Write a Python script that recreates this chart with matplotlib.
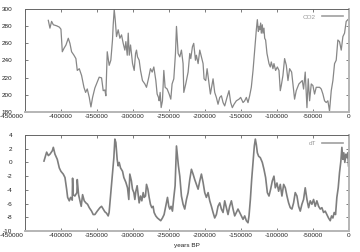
import matplotlib
matplotlib.use("Agg")
import matplotlib.pyplot as plt
from matplotlib.transforms import ScaledTranslation

# ---------------- data ----------------
co2_years = [-417600, -415300, -413000, -410600, -406000, -402300, -400000, -398100, -395800, -393000,
             -389800, -387500, -385200, -381900, -379200, -377300, -374500, -371300, -368000, -365700,
             -363400, -360600, -358300, -356000, -352800, -349500, -346800, -343500, -341200, -338900,
             -337500, -335600, -332900, -330600, -328300, -327300, -325900, -324500, -322700, -320400,
             -318000, -315700, -313400, -311100, -309700, -307800, -306400, -305000, -303200, -300400,
             -298100, -296200, -294900, -293500, -291200, -289300, -286600, -283300, -281000, -277800,
             -275500, -273100, -270800, -268000, -266200, -264300, -263400, -262000, -260600, -258800,
             -256900, -255100, -252300, -249500, -247200, -245400, -243000, -240700, -239300, -237000,
             -234700, -232400, -230100, -229100, -226400, -223100, -220800, -219400, -217100, -215300,
             -212900, -211600, -209200, -206900, -204600, -202300, -200900, -198600, -196700, -194000,
             -192100, -188400, -186100, -183800, -181500, -179100, -176800, -174500, -172200, -169000,
             -166200, -163900, -161600, -159200, -156000, -152300, -150000, -146700, -144400, -142100,
             -139800, -137500, -135200, -132800, -130500, -128200, -126800, -125400, -124500, -123600,
             -122200, -121300, -119900, -119000, -117600, -116600, -115300, -113400, -112000, -110600,
             -108800, -107400, -105100, -103700, -101400, -99000, -96700, -94900, -93500, -91200,
             -88900, -86500, -84200, -81900, -79100, -77300, -75000, -72700, -69000, -64300,
             -62500, -60200, -57800, -56000, -54100, -51800, -49500, -47200, -44900, -40200,
             -37900, -35600, -33300, -31000, -28700, -26400, -24000, -21700, -19400, -17100,
             -14800, -12500, -10100, -7800, -5500, -3200, -900]
co2_ppm = [286.3, 277.3, 285.1, 281.2, 280.0, 278.5, 276.1, 250.0, 253.9, 257.8,
           265.6, 259.7, 250.0, 246.0, 242.1, 228.4, 230.4, 222.6, 208.9, 203.0,
           207.0, 197.2, 186.2, 197.2, 208.1, 214.8, 220.6, 219.8, 205.0, 205.8,
           199.1, 250.0, 234.3, 240.2, 263.6, 281.2, 298.8, 287.1, 267.5, 275.4,
           265.6, 269.5, 259.7, 251.9, 261.7, 246.0, 271.5, 246.0, 257.8, 236.3,
           228.4, 248.0, 251.9, 244.1, 240.2, 228.4, 216.7, 212.8, 208.9, 220.6,
           230.4, 226.5, 232.4, 216.7, 201.1, 197.2, 193.3, 203.0, 185.5, 193.3,
           228.4, 208.9, 207.0, 201.1, 195.2, 212.8, 218.7, 248.0, 279.3, 248.0,
           244.1, 251.9, 236.3, 203.0, 212.8, 226.5, 248.0, 242.1, 255.8, 259.7,
           240.2, 246.0, 236.3, 251.9, 244.1, 236.3, 218.7, 216.7, 230.4, 212.8,
           201.1, 218.7, 203.0, 197.2, 189.3, 197.2, 199.1, 191.3, 187.4, 197.2,
           205.0, 191.3, 185.4, 189.3, 193.3, 195.2, 197.2, 191.3, 193.3, 197.2,
           191.3, 199.1, 208.9, 228.4, 251.9, 275.4, 287.1, 273.4, 279.3, 275.4,
           283.2, 271.5, 281.2, 271.5, 277.3, 265.6, 263.6, 248.0, 242.1, 236.3,
           232.4, 238.2, 230.4, 236.3, 228.4, 232.4, 228.4, 205.0, 210.9, 222.6,
           242.1, 234.3, 216.7, 230.4, 226.5, 212.8, 195.2, 205.0, 212.8, 216.7,
           206.9, 226.5, 185.4, 218.7, 193.3, 212.8, 210.9, 201.1, 208.9, 208.9,
           206.9, 201.1, 193.3, 191.3, 193.3, 181.5, 205.0, 216.7, 236.3, 240.2,
           263.6, 261.7, 251.9, 267.5, 271.5, 285.1, 287.1]

dt_years = [-423600, -419900, -417500, -415300, -412000, -410600, -408300, -405100, -402300, -400000,
            -396800, -394400, -392100, -390700, -388400, -386600, -384300, -383800, -382900, -380600,
            -377800, -377300, -375500, -373600, -371800, -369900, -367600, -365300, -363000, -360600,
            -357400, -355100, -352800, -349500, -345800, -343500, -341200, -338900, -336600, -334300,
            -333000, -330600, -328300, -326400, -325000, -323600, -321800, -320400, -319000, -317100,
            -314300, -312500, -309700, -307400, -305600, -304200, -302000, -300500, -298600, -297200,
            -295800, -294000, -292600, -291200, -289300, -287500, -285600, -284200, -282400, -281000,
            -279100, -277300, -275500, -273600, -271800, -270400, -268100, -265800, -263500, -261200,
            -258800, -256500, -254200, -251800, -250000, -248600, -246800, -244900, -243000, -241200,
            -239300, -237900, -236600,
            -234700, -232400, -230100, -227800, -225400, -223100, -220800, -218500, -216200, -213900,
            -211600, -209200, -206900, -204600, -202300, -200000, -197700, -195300, -193000, -190700,
            -188400, -186100, -183800, -181500, -179100, -176800, -174500, -172200, -169900, -167600,
            -165300, -162900, -160600, -158300, -156000, -153700, -151400, -149100, -146700, -144400,
            -142100, -139800, -138400, -136500, -134700, -132800, -131000, -129600, -128200, -126800,
            -125000, -122700, -119900, -117600, -115300, -112900, -110600, -108300, -106000, -103700,
            -101800, -99500, -97200, -94900, -92600, -90200, -87900, -85600, -83300, -81000,
            -78700, -76400, -74100, -71700, -69400, -67100, -64800, -62500, -60200, -57800,
            -55500, -53200, -50900, -48600, -46300, -44000, -41600, -39300, -37000, -34700,
            -32400, -30100, -27800, -25400, -23600, -21700, -19900, -18000, -16200, -14300,
            -12500, -10600, -9200, -7900, -6500, -5100, -3700, -2300, -1000, 0]
dt_values = [0.2, 1.5, 1.0, 1.2, 1.7, 2.2, 1.2, 0.45, -0.8, -1.3,
             -1.7, -2.2, -3.9, -5.1, -5.6, -5.1, -5.5, -2.3, -4.7, -4.9,
             -4.4, -2.5, -4.7, -5.6, -6.4, -4.7, -5.6, -5.9, -6.1, -6.6,
             -7.1, -7.6, -7.6, -7.1, -6.6, -6.4, -6.8, -7.2, -7.4, -7.8,
             -7.3, -4.4, -1.5, 0.7, 3.4, 2.9, 0.45, -0.5, 0.0, -0.8,
             -1.3, -2.2, -2.9, -3.7, -5.4, -1.7, -2.7, -3.9, -4.4, -5.4,
             -4.2, -3.4, -4.7, -5.9, -4.9, -5.6, -4.4, -5.1, -4.9, -3.2,
             -3.9, -5.1, -6.1, -6.6, -6.4, -7.3, -7.8, -8.1, -8.3, -8.5,
             -8.1, -7.6, -6.4, -5.1, -6.4, -6.8, -6.4, -7.1, -5.1, -3.4,
             2.4, 0.9, -0.5,
             -2.0, -4.9, -6.1, -6.8, -5.4, -4.4, -2.5, -1.0, -1.7, -2.5,
             -3.2, -3.9, -2.7, -1.7, -2.9, -4.4, -5.1, -4.4, -5.6, -6.4,
             -7.3, -8.1, -7.6, -6.4, -5.9, -6.8, -7.3, -5.6, -6.6, -7.6,
             -6.4, -5.6, -6.8, -7.8, -7.3, -6.8, -7.3, -7.8, -8.3, -7.8,
             -8.5, -8.8, -7.8, -5.4, -2.5, 0.0, 2.4, 3.4, 2.6, 1.4,
             0.9, 0.7, 0.0, -1.0, -2.2, -4.4, -4.9, -3.9, -2.7, -2.0,
             -3.7, -3.0, -4.2, -3.2, -4.9, -3.2, -3.7, -4.9, -5.9, -6.6,
             -6.8, -5.9, -4.4, -4.9, -6.4, -7.1, -6.1, -5.4, -3.7, -5.4,
             -6.6, -5.6, -6.1, -5.4, -6.4, -5.6, -6.4, -6.8, -6.6, -7.3,
             -7.1, -7.6, -8.1, -8.5, -7.8, -8.1, -7.3, -7.6, -5.1, -3.7,
             -1.5, 0.2, 2.2, 0.45, 1.4, 0.0, 1.2, 0.7, 1.4, -0.5]

xticks = list(range(-450000, 1, 50000))
co2_yticks = list(range(180, 301, 20))
dt_yticks = list(range(-10, 5, 2))

# ---------------- figure ----------------
W, H, DPI = 360, 252, 100
fig = plt.figure(figsize=(W / DPI, H / DPI), dpi=DPI)
plt.rcParams['font.family'] = ['Liberation Sans', 'DejaVu Sans']
FS = 4.6
TXT = '#222222'

def px_axes(l, t, r, b):
    return fig.add_axes([l / W, 1 - b / H, (r - l) / W, (b - t) / H])

ax1 = px_axes(25, 8.5, 348.5, 112.3)
ax2 = px_axes(25, 135, 348.5, 231)

ax1.plot(co2_years, co2_ppm, color='#878787', lw=0.9, label='CO2')
ax2.plot(dt_years, dt_values, color='#7e7e7e', lw=1.2, label='dT')

for ax, yt, ylim in ((ax1, co2_yticks, (180, 300)), (ax2, dt_yticks, (-10, 4))):
    ax.set_xlim(-450000, 0)
    ax.set_ylim(*ylim)
    ax.set_xticks(xticks)
    ax.set_yticks(yt)
    ax.set_xticklabels([str(v) for v in xticks])
    ax.set_yticklabels([str(v) for v in yt])
    ax.tick_params(direction='in', length=2.3, width=0.6, color='#666666',
                   top=True, right=True, labelsize=FS, labelcolor=TXT)
    ax.tick_params(axis='y', pad=9.2)
    ax.tick_params(axis='x', pad=1.4)
    for s in ('top', 'left'):
        ax.spines[s].set_color('#666666')
        ax.spines[s].set_linewidth(0.7)
    for s in ('bottom', 'right'):
        ax.spines[s].set_color('#b5b5b5')
        ax.spines[s].set_linewidth(1.4)
    leg = ax.legend(loc='upper right', frameon=False, markerfirst=False, fontsize=FS,
                    handlelength=3.2, handletextpad=1.0, borderaxespad=0.9,
                    borderpad=0.0, labelcolor='#999999')
    for ln in leg.get_lines():
        ln.set_linewidth(1.2)
        ln.set_color('#a0a0a0')
    # shift the first x tick label left as in the reference
    fig.canvas.draw()
    lab = ax.get_xticklabels()[0]
    lab.set_transform(lab.get_transform() + ScaledTranslation(-13.5 / DPI, 0, fig.dpi_scale_trans))

ax2.set_xlabel('years BP', fontsize=FS, color=TXT, labelpad=4.0)

fig.savefig('out.png', dpi=DPI)
